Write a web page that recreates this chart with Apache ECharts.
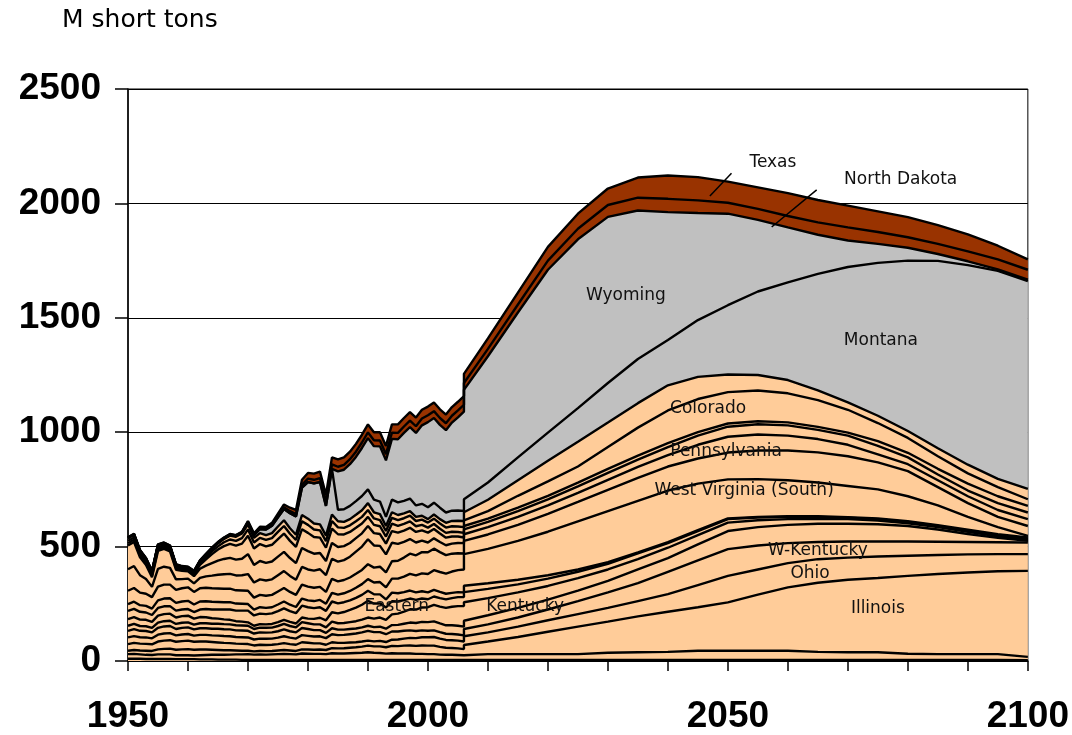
<!DOCTYPE html>
<html><head><meta charset="utf-8">
<script src="https://cdn.jsdelivr.net/npm/echarts/dist/echarts.min.js"></script>
<style>html,body{margin:0;padding:0;background:#fff}#c{width:1072px;height:735px}</style>
</head><body><div id="c"></div>
<script>
const years = [
 1950,1951,1952,1953,1954,1955,1956,1957,1958,1959,
 1960,1961,1962,1963,1964,1965,1966,1967,1968,1969,
 1970,1971,1972,1973,1974,1975,1976,1977,1978,1979,
 1980,1981,1982,1983,1984,1985,1986,1987,1988,1989,
 1990,1991,1992,1993,1994,1995,1996,1997,1998,1999,
 2000,2001,2002,2003,2004,2005,2006,
 2006,2010,2015,2020,2025,2030,2035,2040,2045,2050,2055,2060,2065,2070,2075,2080,2085,2090,2095,2100];

const oklahoma = [
 10,10,10,9,9,9,9,9,8,8, 8,8,7,7,7,6,6,6,6,5,
 5,5,5,5,5,5,5,5,5,5, 5,5,5,5,5,5,5,5,5,5,
 5,5,5,5,5,5,5,5,5,5, 5,5,5,5,5,5,5,
 5,5,5,5,5,5,5,5,5,5,5,5,5,5,5,5,5,5,5,4];
const alabama = [
 20,21,19,18,17,20,20,20,17,17, 17,16,18,19,20,21,21,22,23,24,
 25,23,24,23,24,25,26,25,24,28, 27,26,26,25,29,28,28,29,30,31,
 33,31,30,27,29,28,28,28,26,26, 25,25,23,22,22,21,20,
 25,25,25,25,25,31,33,35,40,40,40,40,35,33,33,27,25,25,25,14];
const illinois = [
 15,17,17,18,18,22,24,25,24,26, 27,25,25,24,22,21,20,19,17,16,
 15,14,15,15,15,16,17,16,15,18, 18,18,19,18,22,22,23,24,25,27,
 29,28,29,28,32,32,34,35,35,37, 37,37,34,31,30,29,27,
 40,55,75,98,120,136,157,175,190,211,245,277,302,317,325,340,350,357,362,376];
const ohio = [
 29,31,30,30,29,34,36,37,35,36, 37,35,35,35,34,33,32,31,30,30,
 29,26,27,27,27,28,30,28,27,31, 30,28,27,23,26,24,23,23,22,22,
 22,22,24,23,27,29,31,33,34,36, 37,38,36,34,34,34,33,
 38,40,45,50,55,60,67,77,97,116,110,106,103,97,94,88,83,79,75,73];
const wKentucky = [
 29,30,28,28,26,30,31,31,28,29, 29,27,29,29,29,30,30,30,29,29,
 29,26,27,27,27,28,30,28,27,31, 30,30,31,29,35,34,35,36,38,40,
 43,40,38,34,36,35,34,33,31,30, 28,29,28,27,27,27,27,
 32,35,40,47,57,68,78,98,108,117,105,87,75,70,65,62,58,54,52,51];
const indiana = [
 29,30,28,28,26,30,31,31,28,29, 29,27,29,29,29,30,30,30,29,29,
 29,26,27,27,27,28,30,28,27,31, 30,28,27,23,26,24,23,23,22,22,
 22,22,24,24,28,29,31,34,35,37, 38,39,38,37,38,38,38,
 36,40,42,43,46,50,60,60,70,79,80,80,80,78,76,68,54,35,19,7];
const eKentucky = [
 22,23,21,21,20,23,23,23,22,22, 22,21,22,22,22,22,22,22,22,22,
 22,20,21,21,21,23,24,23,22,26, 25,25,25,24,29,28,29,30,32,34,
 36,37,40,39,47,49,53,58,59,63, 65,72,74,76,81,86,90,
 81,75,68,60,54,50,45,45,40,37,30,25,22,20,16,12,10,10,7,5];
const virginia = [
 29,30,28,28,26,30,31,31,28,29, 29,26,27,26,24,22,21,20,18,17,
 15,14,15,15,16,17,18,18,17,20, 20,24,29,31,41,43,48,53,59,65,
 73,66,62,54,57,53,50,47,42,39, 35,37,37,37,38,39,40,
 44,40,35,32,28,25,25,20,18,15,12,10,8,6,6,6,5,5,5,5];
const tennessee = [
 36,36,34,32,30,34,34,33,30,29, 29,29,33,36,38,40,43,45,46,48,
 51,45,46,45,46,48,50,47,45,52, 50,47,46,41,47,44,43,42,43,43,
 44,41,39,35,38,36,35,35,33,32, 30,29,27,25,23,22,20,
 28,25,20,15,10,7,5,5,4,3,3,3,3,3,3,3,4,4,4,5];
const wvSouth = [
 30,31,29,29,28,33,34,34,34,35, 36,33,35,34,34,33,32,32,31,30,
 29,26,28,27,27,29,30,28,27,31, 30,31,32,31,38,38,39,41,44,47,
 51,51,54,53,61,64,68,73,74,78, 80,86,87,88,93,96,100,
 138,150,170,190,210,223,225,225,203,171,165,157,147,136,127,109,86,56,31,7];
const pennsylvania = [
 58,60,55,53,50,60,61,60,57,58, 59,55,58,59,59,59,59,59,58,58,
 58,52,54,53,54,57,59,56,53,61, 60,58,57,52,61,58,58,59,61,62,
 65,65,67,65,76,78,83,88,88,93, 95,94,87,81,78,74,70,
 58,63,70,78,85,93,100,105,110,117,125,130,132,130,118,110,80,60,45,43];
const wvNorth = [
 94,96,76,64,45,78,78,73,46,40, 38,37,45,50,55,60,63,65,65,67,
 73,66,68,67,68,71,74,70,66,77, 75,75,77,73,87,86,87,91,97,102,
 109,97,91,79,81,74,69,64,56,50, 43,45,44,43,44,45,45,
 29,32,35,37,40,44,48,50,60,69,70,65,58,50,35,30,30,30,30,30];
const otherEast = [
 104,105,78,62,42,78,78,72,42,36, 32,32,40,47,55,62,67,70,69,72,
 87,77,80,77,78,81,84,78,73,83, 80,74,71,62,70,64,61,60,59,58,
 58,54,52,47,51,49,49,49,46,45, 43,41,37,33,31,28,25,
 21,23,25,26,28,30,32,35,40,44,45,45,40,40,37,30,25,25,30,29];
const newMexico = [
 10,10,9,9,8,8,8,7,7,6, 6,7,17,27,39,48,56,61,61,66,
 80,72,74,72,73,77,80,75,71,82, 80,73,67,58,63,56,51,48,45,43,
 40,36,34,31,32,30,29,28,25,24, 22,22,21,21,21,20,20,
 15,14,15,16,17,18,18,17,15,14,13,13,13,13,21,20,25,30,30,29];
const colorado = [
 10,10,9,8,8,8,7,7,6,5, 5,6,8,10,12,14,17,19,21,24,
 28,26,27,28,29,31,33,31,30,35, 35,33,32,29,33,30,29,29,29,29,
 30,28,27,24,26,25,25,25,23,23, 22,23,23,23,24,24,25,
 25,33,52,63,70,95,122,143,145,137,134,127,117,100,79,65,55,45,40,29];
const utah = [
 12,12,10,9,8,9,9,8,7,6, 5,6,8,9,11,13,15,17,18,20,
 22,20,21,21,22,24,25,24,23,27, 27,26,26,24,28,27,26,27,28,29,
 30,27,26,22,24,22,21,20,18,17, 15,18,19,21,23,25,27,
 35,50,68,90,108,107,107,110,97,77,68,58,43,32,32,30,35,38,36,45];
const montana = [
 1,1,1,1,1,1,1,1,1,1, 1,1,1,1,2,2,2,3,3,4,
 8,12,18,25,32,40,49,66,80,120, 160,175,185,130,200,50,55,58,60,62,
 60,55,55,40,55,55,55,55,50,52, 52,52,50,45,45,45,44,
 57,75,100,123,147,173,193,198,248,303,365,427,509,592,668,745,819,872,909,908];
const wyoming = [
 0,0,0,0,0,0,0,0,0,0, 0,0,0,0,0,0,0,0,0,0,
 0,0,0,0,0,0,0,0,0,0, 0,0,0,0,0,168,173,182,193,210,
 224,234,241,247,266,276,297,312,317,343, 372,370,362,360,385,407,434,
 478,552,633,712,738,726,649,559,468,400,313,240,171,116,83,56,30,17,7,7];
const northDakota = [
 2,2,2,2,2,2,2,2,2,2, 2,2,2,3,3,3,3,3,3,3,
 4,4,5,5,6,7,8,9,10,12, 15,16,17,18,19,20,21,22,23,24,
 25,26,26,27,27,28,28,29,29,30, 30,30,30,30,30,30,30,
 30,32,35,40,46,52,56,58,55,48,48,50,54,57,52,46,44,43,43,43];
const texas = [
 1,1,1,1,1,1,1,1,1,1, 1,1,1,1,1,1,1,1,1,1,
 3,4,5,6,7,9,12,15,18,22, 25,27,29,30,31,32,33,33,34,34,
 35,35,36,36,36,37,37,37,38,38, 38,38,38,38,38,38,38,
 40,46,52,60,66,72,88,102,102,92,94,100,98,95,90,88,82,75,60,45];

const PEACH = '#FFCC99', GRAY = '#C0C0C0', BROWN = '#993300';
const layers = [
 ['Oklahoma', oklahoma, PEACH], ['Alabama', alabama, PEACH], ['Illinois', illinois, PEACH],
 ['Ohio', ohio, PEACH], ['W-Kentucky', wKentucky, PEACH], ['Indiana', indiana, PEACH],
 ['Eastern Kentucky', eKentucky, PEACH], ['Virginia', virginia, PEACH], ['Tennessee', tennessee, PEACH],
 ['West Virginia (South)', wvSouth, PEACH], ['Pennsylvania', pennsylvania, PEACH],
 ['West Virginia (North)', wvNorth, PEACH], ['Other East', otherEast, PEACH],
 ['New Mexico', newMexico, PEACH], ['Colorado', colorado, PEACH], ['Utah', utah, PEACH],
 ['Montana', montana, GRAY], ['Wyoming', wyoming, GRAY],
 ['North Dakota', northDakota, BROWN], ['Texas', texas, BROWN]
];

const labelTexts = [
 {text:'Texas', x:2057.5, y:2177}, {text:'North Dakota', x:2078.8, y:2103},
 {text:'Wyoming', x:2033, y:1597}, {text:'Montana', x:2075.5, y:1400},
 {text:'Colorado', x:2046.7, y:1104}, {text:'Pennsylvania', x:2049.7, y:916},
 {text:'West Virginia (South)', x:2052.7, y:746}, {text:'W-Kentucky', x:2065, y:484},
 {text:'Ohio', x:2063.7, y:380}, {text:'Illinois', x:2075, y:227},
 {text:'Eastern', x:1994.8, y:240}, {text:'Kentucky', x:2016.2, y:240}
];
const leaders = [
 {x1:2050.6, y1:2132, x2:2047, y2:2032},
 {x1:2064.8, y1:2059, x2:2057.3, y2:1897}
];

// the series live on a hidden time axis (so that the library stacks the values, not the years);
// the visible axis is a plain value axis spanning the same years
const yr = y => Date.UTC(y, 0, 1);
const chart = echarts.init(document.getElementById('c'), null, {renderer:'canvas'});
const series = [];
layers.forEach(([name, arr, col]) => {
  series.push({
    name, type:'line', stack:'areas', symbol:'none', silent:true, z:2, xAxisIndex:0,
    data: years.map((y,i)=>[yr(y), arr[i]]),
    lineStyle:{width:0, opacity:0},
    areaStyle:{color:col, opacity:1}
  });
});
layers.forEach(([name, arr]) => {
  series.push({
    name: name + ' line', type:'line', stack:'lines', symbol:'none', silent:true, z:3, xAxisIndex:0,
    data: years.map((y,i)=>[yr(y), arr[i]]),
    lineStyle:{color:'#000', width:2.4}
  });
});

const axisFont = {fontFamily:'Liberation Sans', fontWeight:'bold', fontSize:37, color:'#000'};
chart.setOption({
  animation:false,
  backgroundColor:'#fff',
  grid:{left:128, right:44, top:89, bottom:73, show:true, borderColor:'#000', borderWidth:1},
  xAxis:[{
    type:'time', min:yr(1950), max:yr(2100), show:false
  },{
    type:'value', min:1950, max:2100, interval:10, position:'bottom',
    axisLine:{lineStyle:{color:'#000', width:1.5}},
    axisTick:{inside:false, length:10, lineStyle:{color:'#000', width:1.5}},
    splitLine:{show:false},
    axisLabel:Object.assign({margin:37, formatter:v => (v % 50 === 0 ? String(v) : '')}, axisFont)
  }],
  yAxis:{
    type:'value', min:0, max:2500, interval:500,
    axisLine:{show:true, lineStyle:{color:'#000', width:1.5}},
    axisTick:{show:true, inside:false, length:13, lineStyle:{color:'#000', width:1.5}},
    splitLine:{show:true, lineStyle:{color:'#000', width:1.2}},
    axisLabel:Object.assign({margin:27, formatter:v => String(v)}, axisFont)
  },
  series
});

const g = [{
  type:'text', left:62, top:8, z:100,
  style:{text:'M short tons', font:'25px "DejaVu Sans"', fill:'#000'}
}];
labelTexts.forEach(l => {
  const p = chart.convertToPixel({xAxisIndex:1, yAxisIndex:0}, [l.x, l.y]);
  g.push({type:'text', x:p[0], y:p[1], z:100,
    style:{text:l.text, font:'17px "DejaVu Sans"', fill:'#111', align:'center', verticalAlign:'middle'}});
});
leaders.forEach(l => {
  const a = chart.convertToPixel({xAxisIndex:1, yAxisIndex:0}, [l.x1, l.y1]);
  const b = chart.convertToPixel({xAxisIndex:1, yAxisIndex:0}, [l.x2, l.y2]);
  g.push({type:'line', z:100, shape:{x1:a[0], y1:a[1], x2:b[0], y2:b[1]}, style:{stroke:'#000', lineWidth:1.5}});
});
chart.setOption({graphic:g});
</script></body></html>
